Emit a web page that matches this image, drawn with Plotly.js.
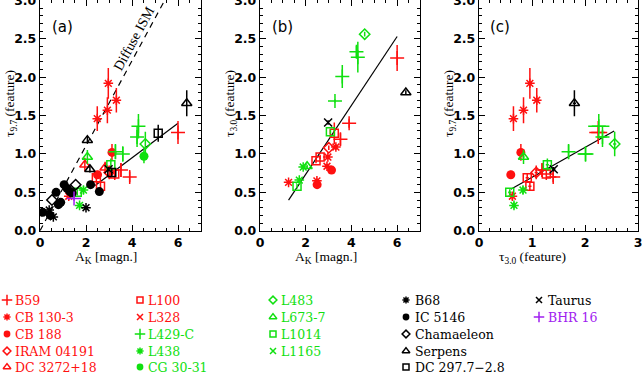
<!DOCTYPE html>
<html><head><meta charset="utf-8">
<script src="https://cdn.plot.ly/plotly-3.0.1.min.js"></script>
<style>html,body{margin:0;padding:0;background:#fff}#chart{width:642px;height:374px}</style>
</head><body><div id="chart"></div>
<script>
// ---------- data ----------
// AK = A_K [magn.], T97 = tau_9.7, T30 = tau_3.0, E97/E30 = errors
const B59_AK = [6.00, 3.90, 3.52];
const B59_T97 = [1.28, 0.70, 0.79];
const B59_T30 = [2.25, 1.40, 1.19];
const B59_E97 = [0.15, 0.07, 0.09];
const B59_E30 = [0.17, 0.06, 0.08];

const CB130_AK = [1.25, 2.49, 2.93, 2.97, 3.32];
const CB130_T97 = [0.45, 1.46, 1.57, 1.92, 1.70];
const CB130_T30 = [0.63, 0.65, 0.84, 0.96, 1.09];
const CB130_E97 = [0.05, 0.16, 0.17, 0.20, 0.16];
const CB130_E30 = [0.02, 0.03, 0.03, 0.03, 0.04];

const CB188_AK = [2.50, 3.13];
const CB188_T97 = [0.73, 1.02];
const CB188_T30 = [0.60, 0.79];
const CB188_E97 = [0.05, 0.11];
const CB188_E30 = [0.03, 0.03];

const IRAM_AK = [3.01];
const IRAM_T97 = [0.76];
const IRAM_T30 = [1.08];
const IRAM_E97 = [0.09];
const IRAM_E30 = [0.03];

const DC3272_AK = [1.95, 2.83];
const DC3272_T97 = [0.86, 0.82];
const DC3272_T30 = [null, null];
const DC3272_E97 = [0.09, 0.08];
const DC3272_E30 = [0, 0];

const L100_AK = [2.45, 2.63, 3.25];
const L100_T97 = [0.69, 0.58, 0.74];
const L100_T30 = [0.91, 0.96, 1.27];
const L100_E97 = [0.06, 0.05, 0.08];
const L100_E30 = [0.03, 0.03, 0.14];

const L328_AK = [];
const L328_T97 = [];
const L328_T30 = [];

const L429_AK = [3.28, 3.60, 4.22, 4.28];
const L429_T97 = [1.03, 1.00, 1.22, 1.36];
const L429_T30 = [1.69, 2.01, 2.33, 2.26];
const L429_E97 = [0.10, 0.10, 0.13, 0.16];
const L429_E30 = [0.02, 0.15, 0.08, 0.20];

const L438_AK = [1.72, 1.89];
const L438_T97 = [0.33, 0.53];
const L438_T30 = [0.66, 0.83];
const L438_E97 = [0.04, 0.05];
const L438_E30 = [0.03, 0.02];

const CG30_AK = [4.52];
const CG30_T97 = [0.97];
const CG30_T30 = [null];
const CG30_E97 = [0.09];

const L483_AK = [4.58];
const L483_T97 = [1.13];
const L483_T30 = [2.56];
const L483_E97 = [0.16];
const L483_E30 = [0.03];

const L673_AK = [2.06];
const L673_T97 = [0.96];
const L673_T30 = [0.84];
const L673_E97 = [0.09];
const L673_E30 = [0.02];

const L1014_AK = [1.62, 3.08];
const L1014_T97 = [0.50, 0.86];
const L1014_T30 = [0.58, 1.29];
const L1014_E97 = [0.04, 0.08];
const L1014_E30 = [0.03, 0.03];

const L1165_AK = [];
const L1165_T97 = [];

const B68_AK = [0.40, 0.58, 2.00];
const B68_T97 = [0.27, 0.18, 0.30];
const B68_E97 = [0.02, 0.02, 0.02];

const IC5146_AK = [0.12, 0.45, 0.70, 0.80, 0.90, 1.05, 1.18, 1.30, 1.40, 2.20, 2.58];
const IC5146_T97 = [0.24, 0.20, 0.50, 0.34, 0.37, 0.60, 0.55, 0.51, 0.49, 0.60, 0.51];

const CHA_AK = [0.52, 1.55];
const CHA_T97 = [0.40, 0.60];

const SERP_AK = [2.06, 2.17, 6.38];
const SERP_T97 = [1.18, 0.80, 1.66];
const SERP_T30 = [null, null, 1.80];
const SERP_E97 = [0.04, 0.04, 0.17];
const SERP_E30 = [0, 0, 0.03];

const DC297_AK = [3.12, 5.14];
const DC297_T97 = [0.76, 1.27];
const DC297_E97 = [0.06, 0.11];

const TAU_AK = [2.98];
const TAU_T97 = [0.80];
const TAU_T30 = [1.41];
const TAU_E97 = [0.03];
const TAU_E30 = [0.03];

const BHR_AK = [1.48];
const BHR_T97 = [0.42];
const BHR_E97 = [0.03];

// fit lines
const DIFFUSE_X = [0.0, 5.42];
const DIFFUSE_Y = [0.0, 3.00];
const FITA_X = [2.40, 6.00];
const FITA_Y = [0.59, 1.40];
const FITB_X = [1.25, 6.00];
const FITB_Y = [0.40, 2.53];
const FITC_X = [0.60, 2.55];
const FITC_Y = [0.54, 1.30];

// ---------- styles ----------
const RED = '#ff1010', GREEN = '#10e010', BLACK = '#000000', PURPLE = '#a020f0';
const SYM = {
  plus: {symbol: 'cross-thin-open', size: 10},
  ast: {symbol: 'asterisk-open', size: 8},
  circ: {symbol: 'circle', size: 9},
  diam: {symbol: 'diamond-open', size: 8},
  tri: {symbol: 'triangle-up-open', size: 9},
  sq: {symbol: 'square-open', size: 8},
  x: {symbol: 'x-thin-open', size: 8}
};

const sources = [
  {name: 'B59', c: RED, s: 'plus', ak: B59_AK, t97: B59_T97, t30: B59_T30, e97: B59_E97, e30: B59_E30, col: 0, row: 0},
  {name: 'CB 130-3', c: RED, s: 'ast', ak: CB130_AK, t97: CB130_T97, t30: CB130_T30, e97: CB130_E97, e30: CB130_E30, col: 0, row: 1},
  {name: 'CB 188', c: RED, s: 'circ', ak: CB188_AK, t97: CB188_T97, t30: CB188_T30, e97: CB188_E97, e30: CB188_E30, col: 0, row: 2},
  {name: 'IRAM 04191', c: RED, s: 'diam', ak: IRAM_AK, t97: IRAM_T97, t30: IRAM_T30, e97: IRAM_E97, e30: IRAM_E30, col: 0, row: 3},
  {name: 'DC 3272+18', c: RED, s: 'tri', ak: DC3272_AK, t97: DC3272_T97, t30: DC3272_T30, e97: DC3272_E97, e30: DC3272_E30, col: 0, row: 4},
  {name: 'L100', c: RED, s: 'sq', ak: L100_AK, t97: L100_T97, t30: L100_T30, e97: L100_E97, e30: L100_E30, col: 1, row: 0},
  {name: 'L328', c: RED, s: 'x', ak: L328_AK, t97: L328_T97, t30: L328_T30, col: 1, row: 1},
  {name: 'L429-C', c: GREEN, s: 'plus', ak: L429_AK, t97: L429_T97, t30: L429_T30, e97: L429_E97, e30: L429_E30, col: 1, row: 2},
  {name: 'L438', c: GREEN, s: 'ast', ak: L438_AK, t97: L438_T97, t30: L438_T30, e97: L438_E97, e30: L438_E30, col: 1, row: 3},
  {name: 'CG 30-31', c: GREEN, s: 'circ', ak: CG30_AK, t97: CG30_T97, t30: CG30_T30, e97: CG30_E97, col: 1, row: 4},
  {name: 'L483', c: GREEN, s: 'diam', ak: L483_AK, t97: L483_T97, t30: L483_T30, e97: L483_E97, e30: L483_E30, col: 2, row: 0},
  {name: 'L673-7', c: GREEN, s: 'tri', ak: L673_AK, t97: L673_T97, t30: L673_T30, e97: L673_E97, e30: L673_E30, col: 2, row: 1},
  {name: 'L1014', c: GREEN, s: 'sq', ak: L1014_AK, t97: L1014_T97, t30: L1014_T30, e97: L1014_E97, e30: L1014_E30, col: 2, row: 2},
  {name: 'L1165', c: GREEN, s: 'x', ak: L1165_AK, t97: L1165_T97, col: 2, row: 3},
  {name: 'B68', c: BLACK, s: 'ast', ak: B68_AK, t97: B68_T97, e97: B68_E97, col: 3, row: 0},
  {name: 'IC 5146', c: BLACK, s: 'circ', ak: IC5146_AK, t97: IC5146_T97, col: 3, row: 1},
  {name: 'Chamaeleon', c: BLACK, s: 'diam', ak: CHA_AK, t97: CHA_T97, col: 3, row: 2},
  {name: 'Serpens', c: BLACK, s: 'tri', ak: SERP_AK, t97: SERP_T97, t30: SERP_T30, e97: SERP_E97, e30: SERP_E30, col: 3, row: 3},
  {name: 'DC 297.7\u22122.8', c: BLACK, s: 'sq', ak: DC297_AK, t97: DC297_T97, e97: DC297_E97, col: 3, row: 4},
  {name: 'Taurus', c: BLACK, s: 'x', ak: TAU_AK, t97: TAU_T97, t30: TAU_T30, e97: TAU_E97, e30: TAU_E30, col: 4, row: 0},
  {name: 'BHR 16', c: PURPLE, s: 'plus', ak: BHR_AK, t97: BHR_T97, e97: BHR_E97, col: 4, row: 1}
];

// ---------- layout geometry (pixels) ----------
const W = 642, H = 374;
const LEG_MARK_X = [7, 140, 273, 406, 539];
const LEG_TEXT_X = [13, 146, 279, 413, 546];
const LEG_ROW_Y = [300, 317, 334, 351, 367];

function marker(src, scale) {
  const m = SYM[src.s];
  const filled = src.s === 'circ';
  return {symbol: m.symbol, size: m.size * (scale || 1), color: src.c,
          line: {color: src.c, width: filled ? 0 : 1.5}};
}
function ebar(arr, c) {
  if (!arr) return {visible: false};
  return {type: 'data', array: arr, visible: true, color: c, thickness: 1.5, width: 0};
}
function fill(arr, n) { return arr ? arr : new Array(n).fill(null); }

const traces = [];
traces.push({x: DIFFUSE_X, y: DIFFUSE_Y, mode: 'lines', line: {color: 'black', width: 1.2, dash: '6px,5px'}, xaxis: 'x', yaxis: 'y', hoverinfo: 'skip'});
traces.push({x: FITA_X, y: FITA_Y, mode: 'lines', line: {color: 'black', width: 1.2}, xaxis: 'x', yaxis: 'y', hoverinfo: 'skip'});
traces.push({x: FITB_X, y: FITB_Y, mode: 'lines', line: {color: 'black', width: 1.2}, xaxis: 'x2', yaxis: 'y2', hoverinfo: 'skip'});
traces.push({x: FITC_X, y: FITC_Y, mode: 'lines', line: {color: 'black', width: 1.2}, xaxis: 'x3', yaxis: 'y3', hoverinfo: 'skip'});

sources.forEach(src => {
  const n = src.ak.length;
  if (n === 0) return;
  const t30 = fill(src.t30, n);
  traces.push({x: src.ak, y: src.t97, mode: 'markers', marker: marker(src), error_y: ebar(src.e97, src.c), xaxis: 'x', yaxis: 'y', name: src.name});
  if (t30.some(v => v !== null)) {
    traces.push({x: src.ak, y: t30, mode: 'markers', marker: marker(src), error_y: ebar(src.e30, src.c), xaxis: 'x2', yaxis: 'y2', name: src.name});
    traces.push({x: t30, y: src.t97, mode: 'markers', marker: marker(src), error_x: ebar(src.e30, src.c), error_y: ebar(src.e97, src.c), xaxis: 'x3', yaxis: 'y3', name: src.name});
  }
});

sources.forEach(src => {
  traces.push({x: [LEG_MARK_X[src.col]], y: [LEG_ROW_Y[src.row]], mode: 'markers', marker: marker(src, 0.75), xaxis: 'x4', yaxis: 'y4', hoverinfo: 'skip'});
});

const annotations = [];
sources.forEach(src => {
  annotations.push({xref: 'x4', yref: 'y4', x: LEG_TEXT_X[src.col], y: LEG_ROW_Y[src.row], text: src.name,
    showarrow: false, xanchor: 'left', yanchor: 'middle', font: {family: 'DejaVu Serif', size: 12.5, color: src.c}});
});

const titleFont = {family: 'Liberation Serif', size: 13.5, color: 'black'};
const pix = (x, y, text, extra) => Object.assign({xref: 'x4', yref: 'y4', x: x, y: y, text: text, showarrow: false, font: titleFont}, extra || {});
annotations.push(pix(10, 104, '\u03c4<sub>9.7</sub> (feature)', {textangle: -90}));
annotations.push(pix(230, 104, '\u03c4<sub>3.0</sub> (feature)', {textangle: -90}));
annotations.push(pix(449, 104, '\u03c4<sub>9.7</sub> (feature)', {textangle: -90}));
annotations.push(pix(106, 257, 'A<sub>K</sub> [magn.]'));
annotations.push(pix(326, 257, 'A<sub>K</sub> [magn.]'));
annotations.push(pix(532, 257, '\u03c4<sub>3.0</sub> (feature)'));
const lblFont = {family: 'DejaVu Sans', size: 15, color: 'black'};
annotations.push(pix(62, 27, '(a)', {font: lblFont}));
annotations.push(pix(282, 27, '(b)', {font: lblFont}));
annotations.push(pix(500, 27, '(c)', {font: lblFont}));
annotations.push({xref: 'x', yref: 'y', x: 4.1, y: 2.5, text: 'Diffuse ISM', showarrow: false, textangle: -61.5,
  font: {family: 'Liberation Serif', size: 14, color: 'black'}});

const tickFont = {family: 'DejaVu Sans', size: 12.5, color: 'black', weight: 'bold'};
function axis(domain, range, dtick, minor, extra) {
  return Object.assign({domain: domain, range: range, dtick: dtick, tick0: 0, ticks: 'inside', ticklen: 6, tickwidth: 1,
    tickcolor: 'black', showline: true, linecolor: 'black', linewidth: 1.2, mirror: 'allticks', showgrid: false,
    zeroline: false, tickfont: tickFont, fixedrange: true, ticklabeloverflow: 'allow',
    minor: {dtick: minor, tick0: 0, ticks: 'inside', ticklen: 3, tickwidth: 1, tickcolor: 'black', showgrid: false}}, extra || {});
}
const YD = [0.383, 0.999];
const layout = {
  width: W, height: H, margin: {l: 0, r: 0, t: 0, b: 0}, showlegend: false,
  paper_bgcolor: 'white', plot_bgcolor: 'rgba(0,0,0,0)',
  xaxis: axis([40 / W, 201 / W], [0, 7], 2, 0.5, {anchor: 'y'}),
  yaxis: axis(YD, [0, 3], 0.5, 0.1, {anchor: 'x', tickformat: '.1f'}),
  xaxis2: axis([260 / W, 420 / W], [0, 7], 2, 0.5, {anchor: 'y2'}),
  yaxis2: axis(YD, [0, 3], 0.5, 0.1, {anchor: 'x2', tickformat: '.1f'}),
  xaxis3: axis([479 / W, 638 / W], [0, 3], 1, 0.2, {anchor: 'y3'}),
  yaxis3: axis(YD, [0, 3], 0.5, 0.1, {anchor: 'x3', tickformat: '.1f'}),
  xaxis4: {domain: [0, 1], range: [0, W], visible: false, anchor: 'y4', fixedrange: true},
  yaxis4: {domain: [0, 1], range: [H, 0], visible: false, anchor: 'x4', fixedrange: true},
  annotations: annotations
};
Plotly.newPlot('chart', traces, layout, {displayModeBar: false, staticPlot: true});
</script></body></html>
